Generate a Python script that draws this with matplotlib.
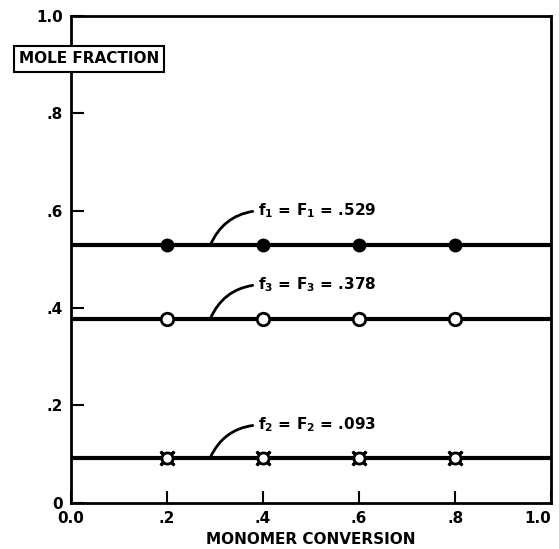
import matplotlib.pyplot as plt

conversion = [0.2, 0.4, 0.6, 0.8]
f1_values = [0.529, 0.529, 0.529, 0.529]
f3_values = [0.378, 0.378, 0.378, 0.378]
f2_values = [0.093, 0.093, 0.093, 0.093]
f1_level = 0.529
f3_level = 0.378
f2_level = 0.093

x_ticks = [0.0, 0.2, 0.4, 0.6, 0.8, 1.0]
x_ticklabels = ["0.0", ".2", ".4", ".6", ".8", "1.0"]
y_ticks = [0.0, 0.2, 0.4, 0.6, 0.8, 1.0]
y_ticklabels = ["0", ".2", ".4", ".6", ".8", "1.0"]

plt.rcParams['font.family'] = ['DejaVu Sans']
plt.rcParams['font.weight'] = 'bold'
plt.rcParams['mathtext.fontset'] = 'dejavusans'

fig = plt.figure(figsize=(5.59, 5.49), dpi=100)
ax = fig.add_axes([0.127, 0.084, 0.859, 0.887])

for lvl in [f1_level, f3_level, f2_level]:
    ax.plot([0, 1], [lvl, lvl], color='black', lw=3, solid_capstyle='butt', zorder=2)

ax.plot(conversion, f1_values, 'o', ms=9, mfc='black', mec='black', zorder=3)
ax.plot(conversion, f3_values, 'o', ms=9, mfc='white', mec='black', mew=2, zorder=3)
ax.plot(conversion, f2_values, marker=(4, 2, 45), ls='none', ms=14, mec='black', mew=2, zorder=3)
ax.plot(conversion, f2_values, 'o', ms=8, mfc='white', mec='black', mew=2, zorder=4)

labels = [(f1_level, 0.60, "f$_1$ = F$_1$ = .529"),
          (f3_level, 0.448, "f$_3$ = F$_3$ = .378"),
          (f2_level, 0.160, "f$_2$ = F$_2$ = .093")]
for lvl, ty, txt in labels:
    ax.annotate(txt, xy=(0.29, lvl), xytext=(0.39, ty), fontsize=11, fontweight='bold',
                va='center', ha='left',
                arrowprops=dict(arrowstyle='-', color='black', lw=2,
                                connectionstyle='arc3,rad=0.3',
                                relpos=(0, 0.5), shrinkA=2, shrinkB=0))

ax.set_xlim(0, 1)
ax.set_ylim(0, 1)
ax.set_xticks(x_ticks)
ax.set_xticklabels(x_ticklabels)
ax.set_yticks(y_ticks)
ax.set_yticklabels(y_ticklabels)
ax.tick_params(direction='in', length=9, width=1.5, labelsize=11, pad=6)
ax.get_xticklabels()[-1].set_ha('right')
for s in ax.spines.values():
    s.set_linewidth(2)

ax.set_xlabel("MONOMER CONVERSION", fontsize=11, fontweight='bold', labelpad=4)
ax.text(0.0375, 0.912, "MOLE FRACTION", transform=ax.transAxes, fontsize=11,
        fontweight='bold', ha='center', va='center',
        bbox=dict(boxstyle='square,pad=0.35', fc='white', ec='black', lw=1.5))

fig.savefig("out.png", dpi=100)
